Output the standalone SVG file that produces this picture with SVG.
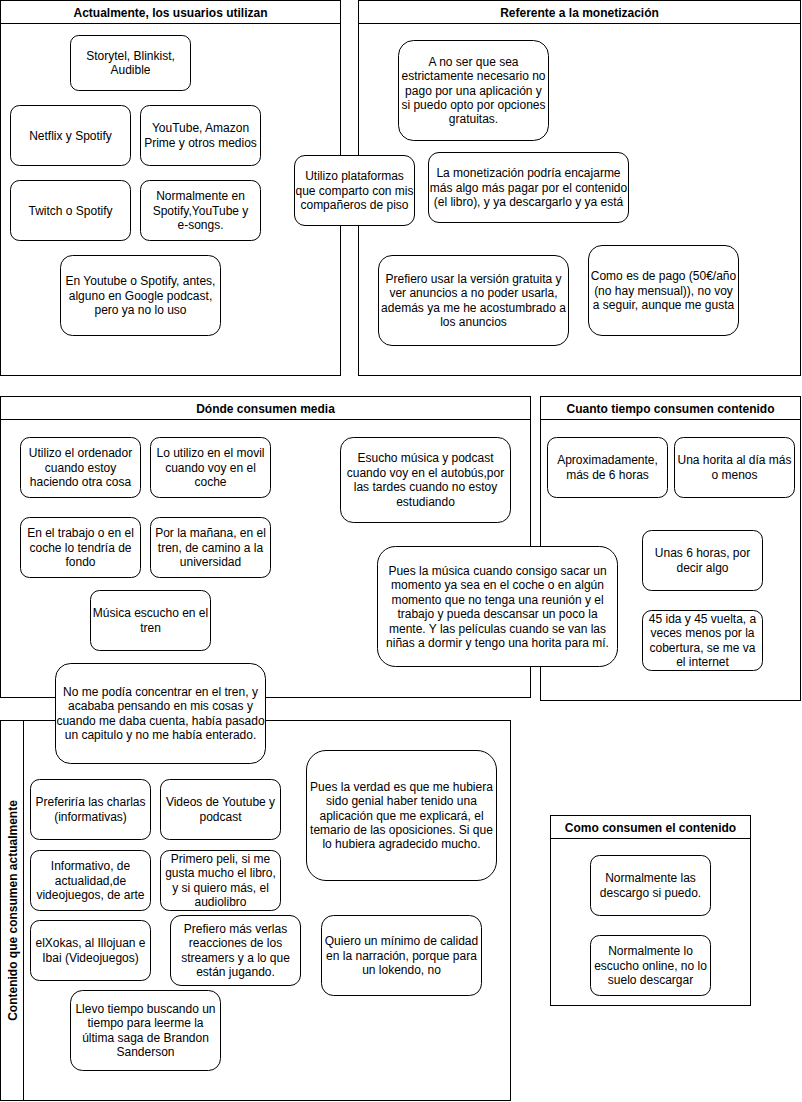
<svg xmlns="http://www.w3.org/2000/svg" width="802" height="1102" viewBox="0 0 802 1102">
  <style>
    .lane { fill: #ffffff; stroke: #000000; stroke-width: 1; }
    .divider { stroke: #000000; stroke-width: 1; fill: none; }
    .title { font-family: "Liberation Sans", Arial, Helvetica, sans-serif; font-size: 12px; font-weight: bold; fill: #000000; text-anchor: middle; }
    .box { fill: #ffffff; stroke: #000000; stroke-width: 1; }
    .label { font-family: "Liberation Sans", Arial, Helvetica, sans-serif; font-size: 12px; fill: #000000; text-anchor: middle; }
  </style>
  <rect x="0" y="0" width="802" height="1102" fill="#ffffff"/>

  <!-- Swimlane containers -->
  <g id="lane-actualmente">
    <rect class="lane" x="0.5" y="0.5" width="340" height="375"/>
    <line class="divider" x1="0.5" y1="23.5" x2="340.5" y2="23.5"/>
    <text class="title" x="170.5" y="16.5">Actualmente, los usuarios utilizan</text>
  </g>
  <g id="lane-monetizacion">
    <rect class="lane" x="358.5" y="0.5" width="442" height="375"/>
    <line class="divider" x1="358.5" y1="23.5" x2="800.5" y2="23.5"/>
    <text class="title" x="579.5" y="16.5">Referente a la monetización</text>
  </g>
  <g id="lane-donde">
    <rect class="lane" x="0.5" y="396.5" width="530" height="301"/>
    <line class="divider" x1="0.5" y1="419.5" x2="530.5" y2="419.5"/>
    <text class="title" x="265.5" y="413">Dónde consumen media</text>
  </g>
  <g id="lane-tiempo">
    <rect class="lane" x="540.5" y="396.5" width="260" height="304"/>
    <line class="divider" x1="540.5" y1="419.5" x2="800.5" y2="419.5"/>
    <text class="title" x="670.5" y="413">Cuanto tiempo consumen contenido</text>
  </g>
  <g id="lane-contenido">
    <rect class="lane" x="0.5" y="720.5" width="510" height="380"/>
    <line class="divider" x1="23.5" y1="720.5" x2="23.5" y2="1100.5"/>
    <text class="title" transform="translate(16.5,910.5) rotate(-90)" x="0" y="0">Contenido que consumen actualmente</text>
  </g>
  <g id="lane-como">
    <rect class="lane" x="550.5" y="815.5" width="200" height="190"/>
    <line class="divider" x1="550.5" y1="838.5" x2="750.5" y2="838.5"/>
    <text class="title" x="650.5" y="831.5">Como consumen el contenido</text>
  </g>

  <!-- No connectors in this diagram -->
  <g id="connectors"/>

  <!-- Actualmente, los usuarios utilizan -->
  <g id="node-storytel">
    <rect class="box" x="70.5" y="35.5" width="120" height="55" rx="8.25"/>
    <text class="label"><tspan x="130.5" y="59.8">Storytel, Blinkist,</tspan><tspan x="130.5" y="74.2">Audible</tspan></text>
  </g>
  <g id="node-netflix">
    <rect class="box" x="10.5" y="105.5" width="120" height="60" rx="9"/>
    <text class="label" x="70.5" y="139.5">Netflix y Spotify</text>
  </g>
  <g id="node-youtube-amazon">
    <rect class="box" x="140.5" y="105.5" width="120" height="60" rx="9"/>
    <text class="label"><tspan x="200.5" y="132.3">YouTube, Amazon</tspan><tspan x="200.5" y="146.7">Prime y otros medios</tspan></text>
  </g>
  <g id="node-twitch">
    <rect class="box" x="10.5" y="180.5" width="120" height="60" rx="9"/>
    <text class="label" x="70.5" y="214.5">Twitch o Spotify</text>
  </g>
  <g id="node-normalmente-en">
    <rect class="box" x="140.5" y="180.5" width="120" height="60" rx="9"/>
    <text class="label"><tspan x="200.5" y="200.1">Normalmente en</tspan><tspan x="200.5" y="214.5">Spotify,YouTube y</tspan><tspan x="200.5" y="228.9">e-songs.</tspan></text>
  </g>
  <g id="node-youtube-spotify-antes">
    <rect class="box" x="60.5" y="255.5" width="160" height="80" rx="12"/>
    <text class="label"><tspan x="140.5" y="285.1">En Youtube o Spotify, antes,</tspan><tspan x="140.5" y="299.5">alguno en Google podcast,</tspan><tspan x="140.5" y="313.9">pero ya no lo uso</tspan></text>
  </g>

  <!-- Referente a la monetización -->
  <g id="node-no-ser">
    <rect class="box" x="398.5" y="40.5" width="150" height="100" rx="15"/>
    <text class="label"><tspan x="473.5" y="65.7">A no ser que sea</tspan><tspan x="473.5" y="80.1">estrictamente necesario no</tspan><tspan x="473.5" y="94.5">pago por una aplicación y</tspan><tspan x="473.5" y="108.9">si puedo opto por opciones</tspan><tspan x="473.5" y="123.3">gratuitas.</tspan></text>
  </g>
  <g id="node-monetizacion">
    <rect class="box" x="428.5" y="152.5" width="200" height="70" rx="10.5"/>
    <text class="label"><tspan x="528.5" y="177.1">La monetización podría encajarme</tspan><tspan x="528.5" y="191.5">más algo más pagar por el contenido</tspan><tspan x="528.5" y="205.9">(el libro), y ya descargarlo y ya está</tspan></text>
  </g>
  <g id="node-prefiero-usar">
    <rect class="box" x="378.5" y="255.5" width="190" height="90" rx="13.5"/>
    <text class="label"><tspan x="473.5" y="282.9">Prefiero usar la versión gratuita y</tspan><tspan x="473.5" y="297.3">ver anuncios a no poder usarla,</tspan><tspan x="473.5" y="311.7">además ya me he acostumbrado a</tspan><tspan x="473.5" y="326.1">los anuncios</tspan></text>
  </g>
  <g id="node-como-es-pago">
    <rect class="box" x="588.5" y="245.5" width="150" height="90" rx="13.5"/>
    <text class="label"><tspan x="663.5" y="280.1">Como es de pago (50€/año</tspan><tspan x="663.5" y="294.5">(no hay mensual)), no voy</tspan><tspan x="663.5" y="308.9">a seguir, aunque me gusta</tspan></text>
  </g>
  <g id="node-plataformas">
    <rect class="box" x="294.5" y="155.5" width="120" height="70" rx="10.5"/>
    <text class="label"><tspan x="354.5" y="180.1">Utilizo plataformas</tspan><tspan x="354.5" y="194.5">que comparto con mis</tspan><tspan x="354.5" y="208.9">compañeros de piso</tspan></text>
  </g>

  <!-- Dónde consumen media -->
  <g id="node-ordenador">
    <rect class="box" x="20.5" y="437.5" width="120" height="60" rx="9"/>
    <text class="label"><tspan x="80.5" y="457.1">Utilizo el ordenador</tspan><tspan x="80.5" y="471.5">cuando estoy</tspan><tspan x="80.5" y="485.9">haciendo otra cosa</tspan></text>
  </g>
  <g id="node-movil">
    <rect class="box" x="150.5" y="437.5" width="120" height="60" rx="9"/>
    <text class="label"><tspan x="210.5" y="457.1">Lo utilizo en el movil</tspan><tspan x="210.5" y="471.5">cuando voy en el</tspan><tspan x="210.5" y="485.9">coche</tspan></text>
  </g>
  <g id="node-autobus">
    <rect class="box" x="340.5" y="437.5" width="170" height="85" rx="12.75"/>
    <text class="label"><tspan x="425.5" y="462.4">Esucho música y podcast</tspan><tspan x="425.5" y="476.8">cuando voy en el autobús,por</tspan><tspan x="425.5" y="491.2">las tardes cuando no estoy</tspan><tspan x="425.5" y="505.6">estudiando</tspan></text>
  </g>
  <g id="node-trabajo">
    <rect class="box" x="20.5" y="517.5" width="120" height="60" rx="9"/>
    <text class="label"><tspan x="80.5" y="537.1">En el trabajo o en el</tspan><tspan x="80.5" y="551.5">coche lo tendría de</tspan><tspan x="80.5" y="565.9">fondo</tspan></text>
  </g>
  <g id="node-manana">
    <rect class="box" x="150.5" y="517.5" width="120" height="60" rx="9"/>
    <text class="label"><tspan x="210.5" y="537.1">Por la mañana, en el</tspan><tspan x="210.5" y="551.5">tren, de camino a la</tspan><tspan x="210.5" y="565.9">universidad</tspan></text>
  </g>
  <g id="node-musica-tren">
    <rect class="box" x="90.5" y="590.5" width="120" height="60" rx="9"/>
    <text class="label"><tspan x="150.5" y="617.3">Música escucho en el</tspan><tspan x="150.5" y="631.7">tren</tspan></text>
  </g>
  <g id="node-no-concentrar">
    <rect class="box" x="55.5" y="663.5" width="210" height="100" rx="15"/>
    <text class="label"><tspan x="160.5" y="695.9">No me podía concentrar en el tren, y</tspan><tspan x="160.5" y="710.3">acababa pensando en mis cosas y</tspan><tspan x="160.5" y="724.7">cuando me daba cuenta, había pasado</tspan><tspan x="160.5" y="739.1">un capitulo y no me había enterado.</tspan></text>
  </g>
  <g id="node-pues-musica">
    <rect class="box" x="377.5" y="546.5" width="240" height="120" rx="18"/>
    <text class="label"><tspan x="497.5" y="575">Pues la música cuando consigo sacar un</tspan><tspan x="497.5" y="589.4">momento ya sea en el coche o en algún</tspan><tspan x="497.5" y="603.8">momento que no tenga una reunión y el</tspan><tspan x="497.5" y="618.2">trabajo y pueda descansar un poco la</tspan><tspan x="497.5" y="632.6">mente. Y las películas cuando se van las</tspan><tspan x="497.5" y="647">niñas a dormir y tengo una horita para mí.</tspan></text>
  </g>

  <!-- Cuanto tiempo consumen contenido -->
  <g id="node-aprox">
    <rect class="box" x="547.5" y="437.5" width="120" height="60" rx="9"/>
    <text class="label"><tspan x="607.5" y="464.3">Aproximadamente,</tspan><tspan x="607.5" y="478.7">más de 6 horas</tspan></text>
  </g>
  <g id="node-horita">
    <rect class="box" x="674.5" y="437.5" width="120" height="60" rx="9"/>
    <text class="label"><tspan x="734.5" y="464.3">Una horita al día más</tspan><tspan x="734.5" y="478.7">o menos</tspan></text>
  </g>
  <g id="node-unas-6-horas">
    <rect class="box" x="642.5" y="530.5" width="120" height="60" rx="9"/>
    <text class="label"><tspan x="702.5" y="557.3">Unas 6 horas, por</tspan><tspan x="702.5" y="571.7">decir algo</tspan></text>
  </g>
  <g id="node-ida-vuelta">
    <rect class="box" x="642.5" y="610.5" width="120" height="60" rx="9"/>
    <text class="label"><tspan x="702.5" y="622.9">45 ida y 45 vuelta, a</tspan><tspan x="702.5" y="637.3">veces menos por la</tspan><tspan x="702.5" y="651.7">cobertura, se me va</tspan><tspan x="702.5" y="666.1">el internet</tspan></text>
  </g>

  <!-- Contenido que consumen actualmente -->
  <g id="node-charlas">
    <rect class="box" x="30.5" y="779.5" width="120" height="60" rx="9"/>
    <text class="label"><tspan x="90.5" y="806.3">Preferiría las charlas</tspan><tspan x="90.5" y="820.7">(informativas)</tspan></text>
  </g>
  <g id="node-videos-youtube">
    <rect class="box" x="160.5" y="779.5" width="120" height="60" rx="9"/>
    <text class="label"><tspan x="220.5" y="806.3">Videos de Youtube y</tspan><tspan x="220.5" y="820.7">podcast</tspan></text>
  </g>
  <g id="node-informativo">
    <rect class="box" x="30.5" y="850.5" width="120" height="60" rx="9"/>
    <text class="label"><tspan x="90.5" y="870.1">Informativo, de</tspan><tspan x="90.5" y="884.5">actualidad,de</tspan><tspan x="90.5" y="898.9">videojuegos, de arte</tspan></text>
  </g>
  <g id="node-primero-peli">
    <rect class="box" x="160.5" y="850.5" width="120" height="60" rx="9"/>
    <text class="label"><tspan x="220.5" y="862.9">Primero peli, si me</tspan><tspan x="220.5" y="877.3">gusta mucho el libro,</tspan><tspan x="220.5" y="891.7">y si quiero más, el</tspan><tspan x="220.5" y="906.1">audiolibro</tspan></text>
  </g>
  <g id="node-elxokas">
    <rect class="box" x="30.5" y="920.5" width="120" height="60" rx="9"/>
    <text class="label"><tspan x="90.5" y="947.3">elXokas, al Illojuan e</tspan><tspan x="90.5" y="961.7">Ibai (Videojuegos)</tspan></text>
  </g>
  <g id="node-reacciones">
    <rect class="box" x="170.5" y="915.5" width="130" height="70" rx="10.5"/>
    <text class="label"><tspan x="235.5" y="932.9">Prefiero más verlas</tspan><tspan x="235.5" y="947.3">reacciones de los</tspan><tspan x="235.5" y="961.7">streamers y a lo que</tspan><tspan x="235.5" y="976.1">están jugando.</tspan></text>
  </g>
  <g id="node-sanderson">
    <rect class="box" x="70.5" y="990.5" width="150" height="80" rx="12"/>
    <text class="label"><tspan x="145.5" y="1012.9">Llevo tiempo buscando un</tspan><tspan x="145.5" y="1027.3">tiempo para leerme la</tspan><tspan x="145.5" y="1041.7">última saga de Brandon</tspan><tspan x="145.5" y="1056.1">Sanderson</tspan></text>
  </g>
  <g id="node-oposiciones">
    <rect class="box" x="306.5" y="750.5" width="190" height="130" rx="19.5"/>
    <text class="label"><tspan x="401.5" y="790.7">Pues la verdad es que me hubiera</tspan><tspan x="401.5" y="805.1">sido genial haber tenido una</tspan><tspan x="401.5" y="819.5">aplicación que me explicará, el</tspan><tspan x="401.5" y="833.9">temario de las oposiciones. Si que</tspan><tspan x="401.5" y="848.3">lo hubiera agradecido mucho.</tspan></text>
  </g>
  <g id="node-calidad">
    <rect class="box" x="321.5" y="915.5" width="160" height="80" rx="12"/>
    <text class="label"><tspan x="401.5" y="945.1">Quiero un mínimo de calidad</tspan><tspan x="401.5" y="959.5">en la narración, porque para</tspan><tspan x="401.5" y="973.9">un lokendo, no</tspan></text>
  </g>

  <!-- Como consumen el contenido -->
  <g id="node-descargo">
    <rect class="box" x="590.5" y="855.5" width="120" height="60" rx="9"/>
    <text class="label"><tspan x="650.5" y="882.3">Normalmente las</tspan><tspan x="650.5" y="896.7">descargo si puedo.</tspan></text>
  </g>
  <g id="node-online">
    <rect class="box" x="590.5" y="935.5" width="120" height="60" rx="9"/>
    <text class="label"><tspan x="650.5" y="955.1">Normalmente lo</tspan><tspan x="650.5" y="969.5">escucho online, no lo</tspan><tspan x="650.5" y="983.9">suelo descargar</tspan></text>
  </g>
</svg>
